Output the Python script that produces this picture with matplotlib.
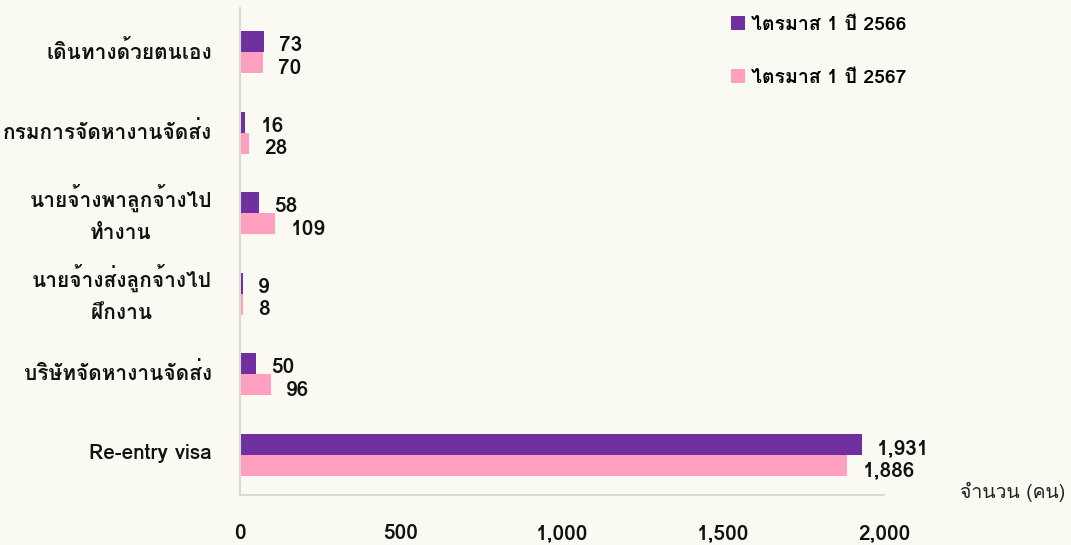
import matplotlib
matplotlib.use("Agg")
import matplotlib.pyplot as plt
import matplotlib.transforms as mtransforms
from matplotlib import font_manager
import numpy as np

# data
categories = ["เดินทางด้วยตนเอง", "กรมการจัดหางานจัดส่ง", "นายจ้างพาลูกจ้างไป\nทำงาน",
              "นายจ้างส่งลูกจ้างไป\nฝึกงาน", "บริษัทจัดหางานจัดส่ง", "Re-entry visa"]
q1_2566 = [73, 16, 58, 9, 50, 1931]
q1_2567 = [70, 28, 109, 8, 96, 1886]
series_names = ["ไตรมาส 1 ปี 2566", "ไตรมาส 1 ปี 2567"]
xticks = [0, 500, 1000, 1500, 2000]

# look for any installed font that has thai glyphs
thai = []
for f in font_manager.fontManager.ttflist:
    n = f.name
    if any(k in n for k in ["Thai", "Tlwg", "Loma", "Garuda", "Sarabun", "Kinnari", "Norasi", "Waree", "Umpush", "Sawasdee", "Purisa"]):
        if n not in thai:
            thai.append(n)
plt.rcParams["font.family"] = thai + ["DejaVu Sans"]

purple = "#7030A0"
pink = "#FF9FBF"
bg = "#FAFAF3"
txt = "#111111"
fw = "semibold"

fig = plt.figure(figsize=(10.71, 5.45), dpi=100, facecolor=bg)
ax = fig.add_axes([0.2241, 0.0917, 0.6013, 0.8936], facecolor=bg)

y = np.arange(len(categories))
h = 0.26
ax.barh(y - h / 2, q1_2566, height=h, color=purple, label=series_names[0])
ax.barh(y + h / 2, q1_2567, height=h, color=pink, label=series_names[1])

for i in range(len(categories)):
    ax.annotate(f"{q1_2566[i]:,}", (q1_2566[i], y[i] - h / 2), xytext=(11, -3),
                textcoords="offset points", va="center", ha="left", fontsize=15, color=txt, fontweight=fw)
    ax.annotate(f"{q1_2567[i]:,}", (q1_2567[i], y[i] + h / 2), xytext=(11, -4),
                textcoords="offset points", va="center", ha="left", fontsize=15, color=txt, fontweight=fw)

ax.set_xlim(0, 2000)
ax.set_ylim(5.5, -0.55)
ax.set_yticks(y)
ax.set_yticklabels(categories, fontsize=15, color=txt, linespacing=1.8, fontweight=fw,
                   multialignment="center")
ax.set_xticks(xticks)
ax.set_xticklabels([f"{v:,}" for v in xticks], fontsize=15, color=txt, fontweight=fw)
ax.tick_params(axis="both", length=0)
ax.tick_params(axis="x", pad=21)
ax.tick_params(axis="y", pad=20)

# nudge the category labels up a little
for lab in ax.get_yticklabels():
    dy = 8 if "\n" in lab.get_text() else 3
    lab.set_transform(lab.get_transform() + mtransforms.ScaledTranslation(0, dy / 100, fig.dpi_scale_trans))

for s in ["top", "right"]:
    ax.spines[s].set_visible(False)
for s in ["left", "bottom"]:
    ax.spines[s].set_color("#D9D9D9")
    ax.spines[s].set_linewidth(1.5)

fig.text(0.995, 0.097, "จำนวน (คน)", ha="right", va="center", fontsize=14, color="#222222")

ax.legend(loc="upper left", bbox_to_anchor=(0.735, 1.02), frameon=False,
          prop={"size": 14, "weight": fw},
          handlelength=0.75, handleheight=0.75, handletextpad=0.3, labelspacing=1.8)

fig.savefig("out.png", dpi=100, facecolor=bg)
